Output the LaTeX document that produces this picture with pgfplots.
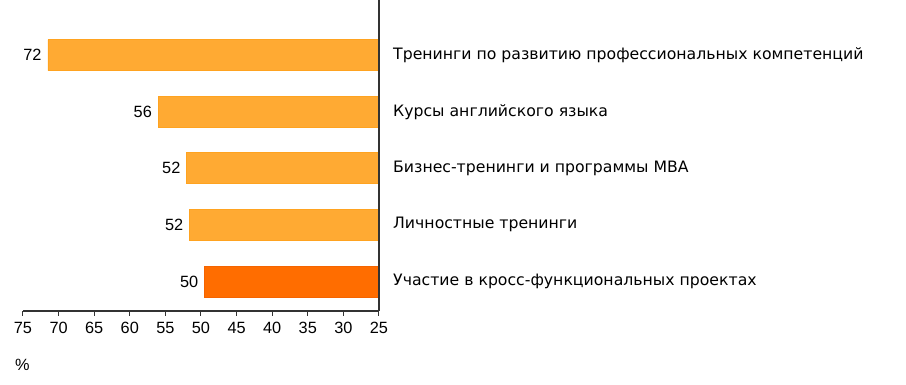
\documentclass[border=0pt]{standalone}
\usepackage{pgfplots}
\pgfplotsset{compat=1.18}
\usepackage{pgfplotstable}
\usepackage{fontspec}
\setmainfont{Liberation Sans}
\newfontfamily\catfont{DejaVu Sans}
\definecolor{barA}{HTML}{FFAA33}
\definecolor{barAedge}{HTML}{FFA320}
\definecolor{barB}{HTML}{FF6D00}
\definecolor{barBedge}{HTML}{F56400}
\definecolor{axc}{HTML}{333333}
\pgfplotstableread{
y x lab
4 71.5 72
3 56 56
2 52 52
1 51.6 52
}\dataA
\pgfplotstableread{
y x lab
0 49.5 50
}\dataB
\begin{document}
\begin{tikzpicture}
\useasboundingbox (0,0) rectangle (906pt,385pt);
\begin{axis}[
  at={(23pt,74pt)}, anchor=south west,
  scale only axis, width=356pt, height=311pt,
  x dir=reverse, xmin=25, xmax=75,
  ymin=-0.521, ymax=4.973,
  axis x line*=bottom, axis y line=none,
  x axis line style={-, draw=axc, line width=1.3pt},
  xtick={25,30,...,75},
  tick align=outside, major tick length=5pt,
  xtick style={draw=axc, line width=1pt},
  ytick=\empty,
  xticklabel style={font=\fontsize{16.3}{19}\selectfont, yshift=-3pt},
  /pgf/number format/assume math mode=true,
  xbar, bar width=31pt, bar shift=0pt,
  point meta=explicit symbolic,
  nodes near coords,
  every node near coord/.append style={anchor=east, font=\fontsize{16.3}{19}\selectfont, inner sep=0pt, xshift=-6pt, text=black},
  clip=false,
]
\addplot[fill=barA, draw=barAedge, line width=0.8pt] table[x=x, y=y, meta=lab] {\dataA};
\addplot[fill=barB, draw=barBedge, line width=0.8pt] table[x=x, y=y, meta=lab] {\dataB};
\draw[axc, line width=2pt] (axis description cs:1,0) -- (axis description cs:1,1.003);
\begin{scope}[every node/.style={anchor=west, font=\catfont\fontsize{15.7}{18}\selectfont, inner sep=0pt}]
\node at ([xshift=14pt]axis cs:25,4) {Тренинги по развитию профессиональных компетенций};
\node at ([xshift=14pt]axis cs:25,3) {Курсы английского языка};
\node at ([xshift=14pt]axis cs:25,2) {Бизнес-тренинги и программы МВА};
\node at ([xshift=14pt]axis cs:25,1) {Личностные тренинги};
\node at ([xshift=14pt]axis cs:25,0) {Участие в кросс-функциональных проектах};
\end{scope}
\end{axis}
\node[anchor=west, inner sep=0pt, font=\fontsize{16.3}{19}\selectfont] at (15pt,20pt) {\%};
\end{tikzpicture}
\end{document}
